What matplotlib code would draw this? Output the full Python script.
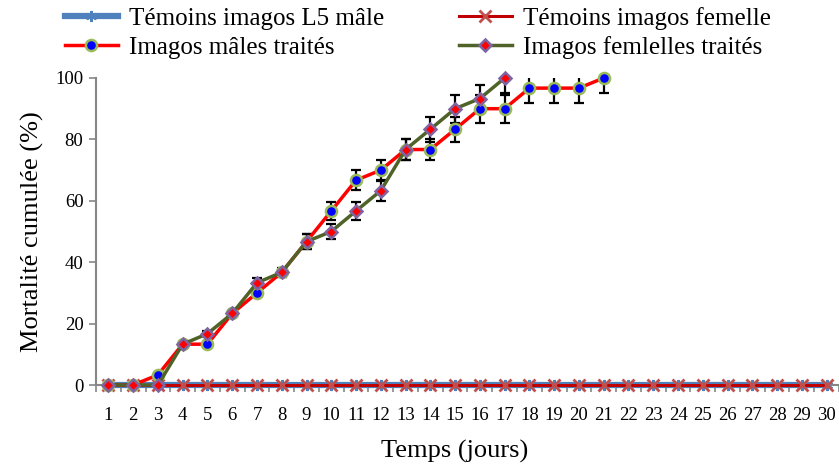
import matplotlib
matplotlib.use("Agg")
import matplotlib.pyplot as plt
import numpy as np

days = list(range(1, 31))
ctrl_male = [0] * 30
ctrl_female = [0] * 30

male_days = list(range(1, 22))
male = [0, 0, 3.3, 13.3, 13.3, 23.3, 30, 36.7, 46.7, 56.7, 66.7, 70, 76.7, 76.7,
        83.3, 90, 90, 96.7, 96.7, 96.7, 100]
male_err_lo = [0, 0, 0, 0, 0, 0.8, 1, 1.2, 2.5, 3, 3.3, 3.3, 3.5, 3.5,
               4, 4.5, 4.5, 4.9, 4.9, 4.9, 5]
male_err_hi = [0, 0, 0, 0, 0, 0.8, 1, 1.2, 2.5, 3, 3.3, 3.3, 3.5, 3.5,
               4, 4.5, 4.5, 4.9, 4.9, 4.9, 0]

female_days = list(range(1, 18))
female = [0, 0, 0, 13.3, 16.7, 23.3, 33.3, 36.7, 46.7, 50, 56.7, 63.3, 76.7,
          83.3, 90, 93.3, 100]
female_err = [0, 0, 0, 0, 0.8, 0.8, 1.5, 1.5, 2.5, 2.5, 3, 3.3, 3.5,
              4, 4.5, 4.5, 5]

labels = ["Témoins imagos L5 mâle", "Témoins imagos femelle",
          "Imagos mâles traités", "Imagos femlelles traités"]

plt.rcParams['font.family'] = ['Liberation Serif', 'DejaVu Serif']

fig = plt.figure(figsize=(8.39, 4.65), dpi=100)
ax = fig.add_axes([0.1144, 0.172, 0.8856, 0.6603])

h1, = ax.plot(days, ctrl_male, color='#4F81BD', lw=4.5, marker=(6, 2, 0),
              ms=8, mec='#4F81BD', mew=1.5, zorder=3, clip_on=False)
h2, = ax.plot(days, ctrl_female, color='#C00000', lw=2.2, marker='x',
              ms=8, mec='#C0504D', mew=2, zorder=4, clip_on=False)

ax.errorbar(male_days, male, yerr=[male_err_lo, male_err_hi], fmt='none',
            ecolor='black', elinewidth=1.6, capsize=3.5, capthick=1.6, zorder=5)
ax.errorbar(female_days, female, yerr=female_err, fmt='none',
            ecolor='black', elinewidth=1.6, capsize=3.5, capthick=1.6, zorder=5)

h3, = ax.plot(male_days, male, color='#FF0000', lw=2.5, marker='o', ms=8,
              mfc='#0000FF', mec='#9BBB59', mew=1.8, zorder=6, clip_on=False)
h4, = ax.plot(female_days, female, color='#4F6228', lw=2.5, marker='D', ms=6.3,
              mfc='#FF0000', mec='#8064A2', mew=1.8, zorder=7, clip_on=False)

ax.set_xlim(0.5, 30.5)
ax.set_ylim(0, 100)
ax.set_yticks([0, 20, 40, 60, 80, 100])
ax.set_xticks(days)
ax.set_xticks(np.arange(0.5, 31, 1), minor=True)
ax.tick_params(axis='x', which='major', length=0, pad=16, labelsize=13.5)
ax.tick_params(axis='x', which='minor', length=5, color='#868686', width=1.2)
ax.tick_params(axis='y', which='major', length=5, color='#868686', width=1.2,
               labelsize=13.5, pad=4)

for s in ['top', 'right']:
    ax.spines[s].set_visible(False)
for s in ['left', 'bottom']:
    ax.spines[s].set_color('#868686')
    ax.spines[s].set_linewidth(1.5)

ax.set_xlabel("Temps (jours)", fontsize=19)
ax.xaxis.set_label_coords((455 - 96) / 743, -(451 - 385) / 307, transform=ax.transAxes)
ax.xaxis.label.set_va('center')
ax.set_ylabel("Mortalité cumulée (%)", fontsize=19, labelpad=8)

fig.legend([h1, h3, h2, h4], [labels[0], labels[2], labels[1], labels[3]],
           ncol=2, loc='upper left',
           bbox_to_anchor=(65 / 839, 1 - 7 / 465), frameon=False, fontsize=18,
           handlelength=2.1, handletextpad=0.45, columnspacing=3.0,
           labelspacing=0.25, borderaxespad=0, borderpad=0)

fig.savefig("out.png", dpi=100)
